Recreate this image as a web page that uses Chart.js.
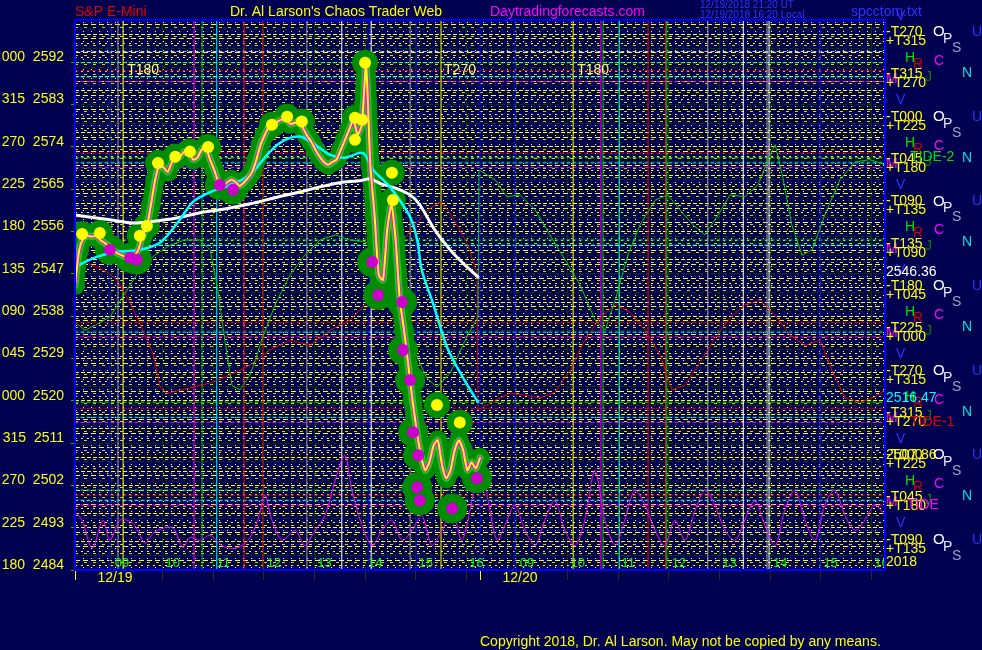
<!DOCTYPE html>
<html>
<head>
<meta charset="utf-8">
<title>S&amp;P E-Mini</title>
<script src="https://cdn.jsdelivr.net/npm/chart.js@4.4.0/dist/chart.umd.min.js"></script>
<style>
  html, body { margin: 0; padding: 0; background: #000050; }
  canvas { display: block; }
</style>
</head>
<body>
<canvas id="chart" width="982" height="650"></canvas>
<script>
// x = hours since the 12/19 open, 12/20 opens at 8
const priceStep = 5 / 60;
const priceValues = [
  2544.6, 2552.1, 2554.6, 2555.1, 2554.9, 2555.1, 2554.2, 2553.6, 2552.9, 2552.1,
  2551.4, 2551.0, 2550.6, 2550.4, 2550.8, 2552.1, 2555.1, 2556.8, 2561.7, 2567.0,
  2570.2, 2569.6, 2568.7, 2570.8, 2571.7, 2572.1, 2573.0, 2572.7, 2571.3, 2571.7,
  2573.4, 2573.8, 2571.3, 2569.1, 2566.6, 2565.7, 2566.4, 2567.0, 2566.6, 2565.7,
  2566.4, 2567.4, 2568.7, 2571.3, 2574.5, 2576.6, 2578.3, 2578.5, 2579.4, 2579.8,
  2580.0, 2578.9, 2579.1, 2579.4, 2578.1, 2576.4, 2575.1, 2573.4, 2571.9, 2570.8,
  2570.2, 2570.8, 2571.3, 2573.4, 2575.5, 2577.7, 2579.8, 2576.6, 2578.7, 2591.5,
  2570.2, 2559.5, 2546.8, 2545.7, 2556.3, 2561.7, 2554.2, 2541.4, 2535.0, 2527.6,
  2520.1, 2513.7, 2508.4, 2505.2, 2506.9, 2510.5, 2511.6, 2506.3, 2503.5, 2505.2,
  2509.5, 2511.6, 2509.5, 2505.2, 2506.9, 2505.6, 2507.86
];
const whiteAvg = [
  [0, 2559.5], [0.69, 2558.5], [1.15, 2557.8], [1.48, 2558.1], [2.01, 2558.9], [2.47, 2560.0],
  [2.96, 2560.8], [3.46, 2561.9], [3.95, 2563.2], [4.44, 2564.4], [4.84, 2565.5], [5.23, 2566.4],
  [5.63, 2566.8], [5.83, 2567.2], [6.06, 2566.1], [6.32, 2565.3], [6.62, 2563.8], [6.81, 2561.7],
  [7.11, 2556.3], [7.41, 2552.1], [7.70, 2548.9], [7.96, 2546.36]
];
const cyanAvg = [
  [0, 2548.5], [0.43, 2550.6], [0.83, 2551.7], [1.28, 2552.1], [1.68, 2553.6], [2.07, 2558.5],
  [2.33, 2562.3], [2.67, 2564.4], [3.06, 2565.9], [3.46, 2568.1], [3.85, 2573.0], [4.15, 2575.5],
  [4.44, 2576.2], [4.74, 2574.5], [5.04, 2572.3], [5.33, 2571.7], [5.69, 2572.7], [5.89, 2569.1],
  [6.22, 2565.5], [6.62, 2559.1], [6.76, 2554.2], [6.85, 2547.8], [7.07, 2540.8], [7.35, 2531.4],
  [7.66, 2525.0], [7.96, 2519.7]
];
const greenForecast = [
  [0, 2536.7], [0.20, 2535.0], [0.40, 2536.1], [0.69, 2537.8], [1.03, 2543.6], [1.28, 2547.8],
  [1.58, 2551.0], [1.88, 2553.1], [2.17, 2554.2], [2.47, 2554.2], [2.67, 2552.1], [2.82, 2543.6],
  [2.96, 2532.9], [3.10, 2523.3], [3.26, 2522.3], [3.46, 2525.5], [3.69, 2532.9], [3.95, 2540.4],
  [4.25, 2546.8], [4.54, 2551.0], [4.84, 2554.2], [5.14, 2555.3], [5.43, 2554.2], [5.73, 2553.8],
  [6.02, 2552.1], [6.32, 2543.6], [6.52, 2536.1], [6.76, 2529.3], [6.95, 2524.8], [7.15, 2522.9],
  [7.41, 2525.9], [7.74, 2533.6], [7.96, 2537.8], [7.98, 2569.1], [8.30, 2567.0], [8.53, 2563.4],
  [8.79, 2563.8], [9.09, 2560.6], [9.38, 2555.3], [9.68, 2550.0], [9.98, 2544.6], [10.27, 2537.2],
  [10.47, 2535.0], [10.67, 2541.4], [10.92, 2551.0], [11.16, 2557.4], [11.46, 2562.7], [11.71, 2563.8],
  [11.95, 2560.6], [12.21, 2557.4], [12.44, 2555.3], [12.70, 2559.5], [12.94, 2563.8], [13.23, 2563.4],
  [13.49, 2565.9], [13.69, 2571.3], [13.83, 2574.5], [13.97, 2568.1], [14.16, 2557.4], [14.36, 2551.0],
  [14.56, 2552.1], [14.81, 2559.5], [15.11, 2567.0], [15.41, 2570.8], [15.70, 2571.3], [16.00, 2570.2]
];
const redForecast = [
  [0.06, 2549.5], [0.24, 2549.3], [0.63, 2547.4], [0.83, 2545.7], [1.09, 2540.8], [1.28, 2536.5],
  [1.54, 2530.1], [1.68, 2522.9], [1.82, 2521.6], [2.33, 2522.9], [2.67, 2523.8], [3.06, 2525.5],
  [3.46, 2527.6], [3.85, 2530.8], [4.25, 2532.9], [4.64, 2531.8], [5.04, 2535.0], [5.43, 2537.2],
  [5.83, 2541.4], [6.16, 2547.8], [6.42, 2553.1], [6.68, 2557.0], [6.97, 2560.6], [7.21, 2562.3],
  [7.41, 2560.0], [7.74, 2553.6], [7.94, 2547.2], [7.96, 2518.0], [8.30, 2520.1], [8.59, 2521.6],
  [8.89, 2521.2], [9.19, 2520.6], [9.48, 2521.8], [9.78, 2526.5], [10.07, 2532.9], [10.37, 2537.6],
  [10.67, 2540.4], [10.96, 2538.9], [11.26, 2535.0], [11.56, 2529.7], [11.79, 2522.3], [12.05, 2523.3],
  [12.35, 2528.2], [12.64, 2533.3], [12.94, 2537.6], [13.23, 2540.4], [13.53, 2541.4], [13.83, 2538.2],
  [14.12, 2534.0], [14.42, 2531.8], [14.72, 2532.9], [14.95, 2526.5], [15.21, 2520.6], [15.51, 2519.7],
  [15.80, 2520.8], [16.00, 2522.3]
];
const tideOsc = [
  [0, 2496.3], [0.14, 2494.6], [0.34, 2488.6], [0.55, 2494.6], [0.69, 2490.3], [0.89, 2494.6],
  [1.15, 2493.9], [1.38, 2489.7], [1.54, 2491.8], [1.74, 2492.9], [1.94, 2492.9], [2.13, 2488.8],
  [2.27, 2490.9], [2.47, 2490.3], [2.67, 2491.4], [2.90, 2489.2], [3.16, 2488.6], [3.42, 2490.3],
  [3.61, 2494.6], [3.75, 2499.9], [3.89, 2494.6], [4.09, 2490.3], [4.35, 2492.4], [4.54, 2489.2],
  [4.74, 2492.4], [4.94, 2495.6], [5.14, 2503.1], [5.33, 2508.4], [5.47, 2501.0], [5.67, 2493.5],
  [5.87, 2489.2], [6.06, 2492.4], [6.26, 2494.6], [6.46, 2490.3], [6.66, 2492.4], [6.85, 2495.6],
  [7.05, 2489.2], [7.25, 2492.4], [7.45, 2496.7], [7.64, 2490.3], [7.84, 2498.8], [8.00, 2508.4],
  [8.16, 2498.8], [8.34, 2490.3], [8.49, 2493.5], [8.69, 2497.8], [8.89, 2492.4], [9.09, 2489.2],
  [9.28, 2494.6], [9.48, 2498.8], [9.68, 2492.4], [9.88, 2489.2], [10.07, 2494.6], [10.27, 2505.2],
  [10.47, 2494.6], [10.67, 2489.2], [10.86, 2494.6], [11.06, 2501.0], [11.26, 2497.8], [11.46, 2492.4],
  [11.65, 2489.2], [11.85, 2494.6], [12.05, 2490.3], [12.25, 2496.7], [12.44, 2501.0], [12.64, 2497.8],
  [12.84, 2492.4], [13.04, 2490.3], [13.23, 2494.6], [13.43, 2498.8], [13.63, 2493.5], [13.83, 2489.2],
  [14.02, 2496.7], [14.22, 2501.0], [14.42, 2494.6], [14.62, 2490.3], [14.81, 2497.8], [15.01, 2501.0],
  [15.21, 2495.6], [15.41, 2492.4], [15.60, 2494.6], [15.80, 2497.8], [16.00, 2495.6]
];
const swingHighs = [
  [0.14, 2555.5], [0.49, 2555.7], [1.28, 2555.1], [1.42, 2557.2], [1.64, 2570.6], [1.98, 2571.9],
  [2.27, 2573.0], [2.63, 2574.0], [3.89, 2578.7], [4.19, 2580.4], [4.48, 2579.4], [5.53, 2580.2],
  [5.53, 2575.5], [5.67, 2579.8], [5.73, 2591.9], [6.26, 2568.5], [6.28, 2562.7], [7.15, 2519.1],
  [7.60, 2515.4]
];
const swingLows = [
  [0.69, 2552.1], [1.09, 2550.4], [1.22, 2550.0], [2.86, 2565.9], [3.12, 2564.9], [5.87, 2549.5],
  [5.99, 2542.5], [6.46, 2541.0], [6.48, 2530.8], [6.62, 2524.4], [6.68, 2513.3], [6.78, 2508.4],
  [6.76, 2501.6], [6.81, 2498.8], [7.45, 2497.1], [7.94, 2503.5]
];

// time lines
const vLineHours = [0.69, 0.85, 0.95, 2.35, 2.51, 2.80, 3.34, 3.71, 4.58, 5.27, 5.79, 5.85, 6.62, 6.74, 7.23,
  8.00, 8.69, 9.84, 10.39, 10.43, 10.75, 11.32, 11.67, 11.69, 12.50, 13.20, 13.67, 13.71, 14.72];
const vLineColors = ['#0000ff', '#a0a0a0', '#ffff00', '#ff00ff', '#00c000', '#00ffff', '#ff0000', '#ff0000',
  '#a0a0a0', '#ffffff', '#0000ff', '#ffffff', '#a0a0a0', '#0000ff', '#ffff00', '#0000ff', '#0000ff', '#ffff00',
  '#ff00ff', '#00c000', '#00ffff', '#ff0000', '#ff3000', '#00c000', '#a0a0a0', '#ffffff', '#a0a0a0', '#ffffff',
  '#0000ff'];

// price levels
const levelPrices = [2594.3, 2591.9, 2590.2, 2588.9, 2587.9, 2572.7, 2571.7, 2570.6, 2569.6, 2554.2, 2553.1,
  2536.7, 2534.6, 2533.6, 2519.7, 2518.4, 2516.47, 2515.4, 2501.0, 2499.9, 2498.8, 2497.8];
const levelColors = ['#c0c0ff', '#00ff00', '#ff0000', '#00ffff', '#ff00ff', '#ff0000', '#00ff00', '#00ffff',
  '#ff00ff', '#00ff00', '#00ffff', '#ff0000', '#00ffff', '#ff00ff', '#00ff00', '#ff0000', '#00ffff', '#ff00ff',
  '#00ff00', '#ff0000', '#00ffff', '#ff00ff'];

// axis labels
const yTickPrices = [2592, 2583, 2574, 2565, 2556, 2547, 2538, 2529, 2520, 2511, 2502, 2493, 2484];
const yTickAngles = ['000', '315', '270', '225', '180', '135', '090', '045', '000', '315', '270', '225', '180'];
const xTickHours = [0, 0.73, 1.73, 2.73, 3.73, 4.73, 5.73, 6.73, 7.73, 8, 8.73, 9.73, 10.73, 11.73, 12.73, 13.73, 14.73, 15.73];
const hourLabels = ['09', '10', '11', '12', '13', '14', '15', '16'];
const dayStarts = [0, 8];
const dayLabels = ['12/19', '12/20'];
const tPairs = [['T270', 'T315'], ['T315', 'T270'], ['T000', 'T225'], ['T045', 'T180'], ['T090', 'T135'],
  ['T135', 'T090'], ['T180', 'T045'], ['T225', 'T000'], ['T270', 'T315'], ['T315', 'T270'],
  ['T000', 'T225'], ['T045', 'T180'], ['T090', 'T135']];
const tPairTop = 2598.4;
const bandStep = 9;

const FONT = 'Liberation Sans, Arial, sans-serif';
const yMin = 2484, yMax = 2601;

const pts = pairs => pairs.map(p => ({ x: p[0], y: p[1] }));
const pricePoints = priceValues.map((v, i) => ({ x: i * priceStep, y: v }));

function lineSet(data, color, width, extra) {
  return Object.assign({
    data: data, borderColor: color, borderWidth: width, pointRadius: 0,
    fill: false, tension: 0, borderJoinStyle: 'round', borderCapStyle: 'round'
  }, extra || {});
}
function dotSet(data, color, radius) {
  return {
    data: data, showLine: false, pointRadius: radius, pointBackgroundColor: color,
    pointBorderWidth: 0, borderColor: color
  };
}

// bottom layer first
const layers = [];
levelPrices.forEach((p, i) => {
  layers.push(lineSet([{ x: 0, y: p }, { x: 16, y: p }], levelColors[i], 1, { borderDash: [3, 3] }));
});
vLineHours.forEach((h, i) => {
  layers.push(lineSet([{ x: h, y: yMin }, { x: h, y: yMax }], vLineColors[i], 1));
});
layers.push(lineSet(pts(redForecast), '#e00000', 1));
layers.push(lineSet(pts(greenForecast), '#00d000', 1));
layers.push(lineSet(pts(tideOsc), '#ff00ff', 1, { tension: 0.3 }));
layers.push(dotSet(pts(swingLows), '#008c00', 15));
layers.push(dotSet(pts(swingHighs), '#008c00', 13));
layers.push(lineSet(pricePoints, '#008c00', 18, {
  tension: 0.2, pointRadius: 10, pointBackgroundColor: '#008c00', pointBorderWidth: 0
}));
layers.push(lineSet(pricePoints, '#00e000', 7, { tension: 0.2 }));
layers.push(lineSet(pts(whiteAvg), '#ffffff', 3, { tension: 0.3 }));
layers.push(lineSet(pts(cyanAvg), '#00ffff', 2.5, { tension: 0.3 }));
layers.push(lineSet(pricePoints, '#ff00ff', 4, { tension: 0.2 }));
layers.push(lineSet(pricePoints, '#ffff00', 2, { tension: 0.2 }));
layers.push(dotSet(pts(swingLows), '#cc00cc', 6));
layers.push(dotSet(pts(swingHighs), '#ffff00', 6));
layers.forEach((d, i) => { d.order = layers.length - i; });

function txt(ctx, s, x, y, color, size, align) {
  ctx.font = (size || 14) + 'px ' + FONT;
  ctx.fillStyle = color;
  ctx.textAlign = align || 'left';
  ctx.textBaseline = 'middle';
  ctx.fillText(s, x, y);
}

const overlayText = {
  id: 'overlayText',
  afterDatasetsDraw(chart) {
    const { ctx, chartArea: a, scales: { x, y } } = chart;
    ctx.save();
    ctx.beginPath();
    ctx.rect(a.left, a.top, a.right - a.left, a.bottom - a.top);
    ctx.clip();
    txt(ctx, 'T180', x.getPixelForValue(1.03), y.getPixelForValue(2590.4), '#ffff80');
    txt(ctx, 'T270', x.getPixelForValue(7.29), y.getPixelForValue(2590.4), '#ffff80');
    txt(ctx, 'T180', x.getPixelForValue(9.92), y.getPixelForValue(2590.4), '#ffff80');
    dayStarts.forEach(d => {
      hourLabels.forEach((lab, i) => {
        txt(ctx, lab, x.getPixelForValue(d + i + 0.93), a.bottom - 7, '#00ff00', 13, 'center');
      });
    });
    ctx.restore();
    ctx.save();
    ctx.strokeStyle = '#0000ff';
    ctx.lineWidth = 2;
    ctx.strokeRect(a.left, a.top, a.right - a.left, a.bottom - a.top);
    ctx.restore();
  },
  afterDraw(chart) {
    const { ctx, chartArea: a, scales: { x, y } } = chart;
    ctx.save();
    // header
    txt(ctx, 'S&P E-Mini', 75, 12, '#e00000');
    txt(ctx, "Dr. Al Larson's Chaos Trader Web", 230, 12, '#ffff00');
    txt(ctx, 'Daytradingforecasts.com', 490, 12, '#ff00ff');
    txt(ctx, '12/19/2018 21:20 UT', 700, 5, '#3030ff', 10);
    txt(ctx, '12/19/2018 16:20 Local', 700, 15, '#3030ff', 10);
    txt(ctx, 'spcctom.txt', 851, 12, '#3030ff');
    // dates
    dayStarts.forEach((d, i) => {
      txt(ctx, dayLabels[i], x.getPixelForValue(d) + 40, a.bottom + 8, '#ffff00', 14, 'center');
    });
    // right column
    const rx = a.right + 1;
    txt(ctx, 'V', 896, y.getPixelForValue(tPairTop + bandStep) + 26, '#3030ff');
    tPairs.forEach((pr, k) => {
      const py = y.getPixelForValue(tPairTop - k * bandStep);
      if (k % 2 === 0) {
        txt(ctx, 'O', 933, py, '#ffffff', 15);
        txt(ctx, 'P', 943, py + 7, '#e8e8ff');
        txt(ctx, 'S', 952, py + 16, '#a0a0c0');
        txt(ctx, 'U', 972, py, '#3030ff');
        if (k < tPairs.length - 1) {
          txt(ctx, 'H', 905, py + 26, '#00e000');
          txt(ctx, 'C', 934, py + 29, '#ff00ff');
          txt(ctx, 'N', 962, py + 41, '#00e0e0');
          txt(ctx, 'J', 925, py + 45, '#008000');
          txt(ctx, 'R', 913, py + 32, '#d00000');
        }
      } else {
        txt(ctx, 'M', rx, py + 5, '#ff00ff');
        txt(ctx, 'V', 896, py + 26, '#3030ff');
      }
      txt(ctx, '-' + pr[0], rx, py, '#ffff00');
      txt(ctx, '+' + pr[1], rx, py + 9, '#ffff00');
    });
    txt(ctx, 'TIDE-2', 910, y.getPixelForValue(2571.8), '#00e000');
    txt(ctx, 'TIDE-1', 910, y.getPixelForValue(2515.5), '#e00000');
    txt(ctx, 'TIDE', 907, y.getPixelForValue(2497.8), '#ff00ff');
    txt(ctx, whiteAvg[whiteAvg.length - 1][1].toFixed(2), rx, y.getPixelForValue(whiteAvg[whiteAvg.length - 1][1]) - 5, '#ffffff');
    txt(ctx, levelPrices[16].toFixed(2), rx, y.getPixelForValue(levelPrices[16]) - 19, '#00ffff');
    txt(ctx, priceValues[priceValues.length - 1].toFixed(2), rx, y.getPixelForValue(priceValues[priceValues.length - 1]) - 3, '#ffff00');
    txt(ctx, '2018', rx, a.bottom - 8, '#ffff00');
    txt(ctx, 'Copyright 2018, Dr. Al Larson. May not be copied by any means.', 480, 642, '#ffff00');
    ctx.restore();
  }
};

new Chart(document.getElementById('chart'), {
  type: 'line',
  data: { datasets: layers },
  options: {
    responsive: false,
    animation: false,
    events: [],
    layout: { padding: { top: 20, right: 97, bottom: 0, left: 0 } },
    plugins: { legend: { display: false }, tooltip: { enabled: false } },
    scales: {
      x: {
        type: 'linear', min: 0, max: 16,
        afterBuildTicks: s => { s.ticks = xTickHours.map(v => ({ value: v })); },
        afterFit: s => { s.height = 80; },
        ticks: { display: false },
        border: { display: false },
        grid: {
          tickLength: 10,
          color: c => (c.tick && c.tick.value % 8 === 0) ? 'rgba(0,0,0,0)' : '#003a00',
          tickColor: c => (c.tick && c.tick.value % 8 === 0) ? '#ffff00' : '#203020'
        }
      },
      y: {
        min: yMin, max: yMax,
        afterBuildTicks: s => {
          s.ticks = [];
          for (let v = yMin; v <= yMax - 1; v++) s.ticks.push({ value: v });
        },
        afterFit: s => { s.width = 75; },
        ticks: {
          autoSkip: false, color: '#ffff00', padding: 7, labelOffset: -5,
          font: { family: FONT, size: 14 },
          callback: v => {
            const i = yTickPrices.indexOf(v);
            return i < 0 ? '' : yTickAngles[i] + '  ' + v;
          }
        },
        border: {
          display: false,
          dash: c => { const m = c.tick ? c.tick.value % 3 : 0; return m === 0 ? [4, 2] : (m === 1 ? [2, 4] : [5, 3]); }
        },
        grid: {
          tickLength: 4,
          color: c => (c.tick && c.tick.value % 4 === 3) ? '#004000' : '#ffff00',
          tickColor: c => (c.tick && yTickPrices.indexOf(c.tick.value) >= 0) ? '#00c000' : 'rgba(0,0,0,0)'
        }
      },
      y2: {
        position: 'left', min: yMin, max: yMax,
        afterBuildTicks: s => {
          s.ticks = [];
          for (let v = yMin; v <= yMax - 1; v++) s.ticks.push({ value: v + 0.5 });
        },
        afterFit: s => { s.width = 0; },
        ticks: { display: false, autoSkip: false },
        border: {
          display: false,
          dash: c => (c.tick && Math.floor(c.tick.value) % 2 === 0) ? [1, 7] : [3, 6]
        },
        grid: {
          drawTicks: false,
          color: c => (c.tick && Math.floor(c.tick.value) % 2 === 0) ? '#ffffff' : '#d8d800'
        }
      }
    }
  },
  plugins: [overlayText]
});
</script>
</body>
</html>
